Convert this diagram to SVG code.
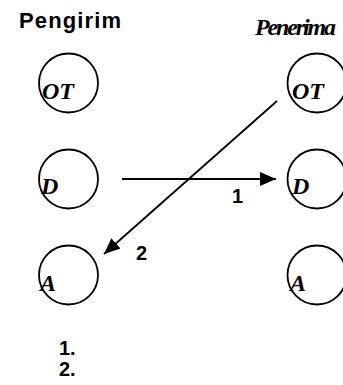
<svg xmlns="http://www.w3.org/2000/svg" width="343" height="385" viewBox="0 0 343 385">
<style>
.c{fill:none;stroke:#000;stroke-width:1.8}
.n{font-family:"Liberation Serif",serif;font-weight:bold;font-style:italic;font-size:24px;fill:#000}
.h{font-family:"Liberation Sans",Arial,sans-serif;font-weight:bold;fill:#000}
.e{stroke:#000;stroke-width:1.8;fill:none}
</style>
<defs>
<marker id="ah" viewBox="0 0 16 14" refX="16" refY="7" markerWidth="16" markerHeight="14" markerUnits="userSpaceOnUse" orient="auto">
<path d="M0,0 L16,7 L0,14 Z" fill="#000"/>
</marker>
</defs>
<rect width="343" height="385" fill="#fff"/>
<text class="h" x="19" y="28" font-size="22" textLength="102">Pengirim</text>
<text class="n" x="255" y="35" font-size="16.5" textLength="81">Penerima</text>
<g id="s-ot"><circle class="c" cx="68.5" cy="83" r="29.5"/><text class="n" x="42" y="99">OT</text></g>
<g id="s-d"><circle class="c" cx="68.5" cy="179" r="29.5"/><text class="n" x="41" y="194">D</text></g>
<g id="s-a"><circle class="c" cx="68.5" cy="275" r="29.5"/><text class="n" x="40" y="291">A</text></g>
<g id="r-ot"><circle class="c" cx="317" cy="83" r="29.5"/><text class="n" x="292" y="99">OT</text></g>
<g id="r-d"><circle class="c" cx="317" cy="179" r="29.5"/><text class="n" x="292" y="194">D</text></g>
<g id="r-a"><circle class="c" cx="317" cy="275" r="29.5"/><text class="n" x="290" y="291">A</text></g>
<g id="connectors">
<line class="e" x1="122" y1="179" x2="276" y2="179" marker-end="url(#ah)"/>
<line class="e" x1="277" y1="101" x2="104" y2="254" marker-end="url(#ah)"/>
<text class="h" x="232" y="203" font-size="20">1</text>
<text class="h" x="136" y="260" font-size="20">2</text>
</g>
<text class="h" x="59" y="355" font-size="20">1.</text>
<text class="h" x="59" y="376" font-size="20">2.</text>
</svg>
